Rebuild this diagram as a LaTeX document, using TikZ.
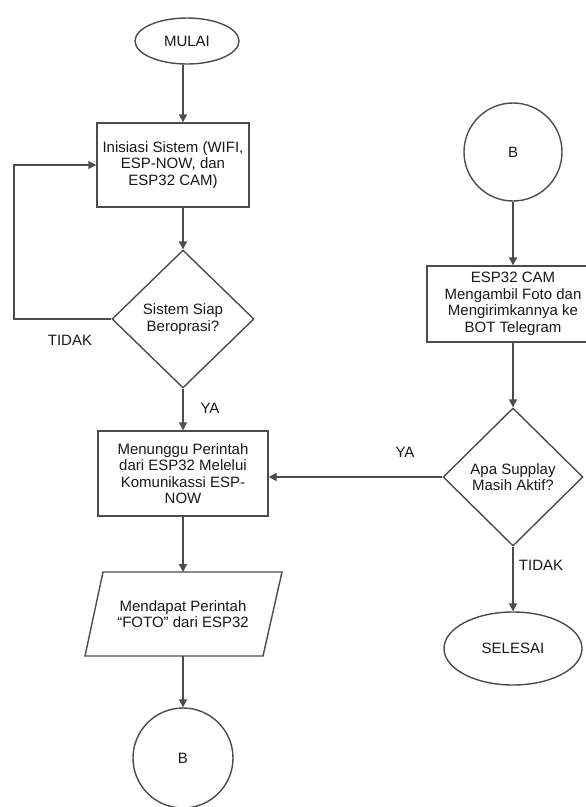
\documentclass[tikz,border=0pt]{standalone}
\usepackage{fontspec}
\setmainfont{Liberation Sans}
\usetikzlibrary{shapes.geometric,arrows.meta,calc}
\begin{document}
\begin{tikzpicture}[x=1pt,y=-1pt,
  every node/.style={font=\fontsize{15}{16.5}\selectfont, text=black!90, align=center, inner sep=1pt},
  ln/.style={draw=black!70, line width=1.4pt},
  arr/.style={ln, -{Triangle[length=8pt,width=8pt]}},
  procbox/.style={ln, rectangle},
  termin/.style={ln, ellipse},
  decis/.style={ln, diamond, minimum width=142pt, minimum height=138pt},
  conn/.style={ln, circle, minimum size=100pt},
  lbl/.style={font=\fontsize{15}{16.5}\selectfont}
]
\useasboundingbox[fill=white] (0,0) rectangle (586,807);

% left column
\node[termin, minimum width=104pt, minimum height=46pt] (mulai) at (187,41) {MULAI};
\node[procbox, minimum width=152pt, minimum height=84pt] (init) at (173,165) {Inisiasi Sistem (WIFI,\\ESP-NOW, dan\\ESP32 CAM)};
\node[decis] (siap) at (183,319) {Sistem Siap\\Beroprasi?};
\node[procbox, minimum width=170pt, minimum height=85pt] (tunggu) at (183,473.5) {Menunggu Perintah\\dari ESP32 Melelui\\Komunikassi ESP-\\NOW};
\node[minimum width=170pt, minimum height=84pt] (dapat) at (183,614) {Mendapat Perintah\\“FOTO” dari ESP32};
\draw[ln] ($(dapat.center)+(-80,-42)$) -- ($(dapat.center)+(99,-42)$) -- ($(dapat.center)+(80,42)$) -- ($(dapat.center)+(-98,42)$) -- cycle;
\coordinate (dapattop) at ($(dapat.center)+(0,-42)$);
\coordinate (dapatbot) at ($(dapat.center)+(0,42)$);
\node[conn] (bleft) at (183,758) {B};

% right column
\node[conn, minimum size=98pt] (bright) at (513,152) {B};
\node[procbox, minimum width=172pt, minimum height=76pt] (foto) at (513,304) {ESP32 CAM\\Mengambil Foto dan\\Mengirimkannya ke\\BOT Telegram};
\node[decis, minimum width=140pt] (supply) at (513,477) {Apa Supplay\\Masih Aktif?};
\node[termin, minimum width=138pt, minimum height=73pt] (selesai) at (513,648.5) {SELESAI};

% connectors
\draw[arr] (mulai.south -| siap.north) -- (init.north -| siap.north);
\draw[arr] (init.south -| siap.north) -- (siap.north);
\draw[arr] (siap.south) -- (tunggu.north);
\draw[arr] (tunggu.south) -- (dapattop);
\draw[arr] (dapatbot) -- (bleft.north);
\draw[arr] (siap.west) -- (14,319) -- (14,165) -- (init.west);
\draw[arr] (bright.south) -- (foto.north);
\draw[arr] (foto.south) -- (supply.north);
\draw[arr] (supply.south) -- (selesai.north);
\draw[arr] (supply.west) -- (supply.west -| tunggu.east);

% labels
\node[lbl] at (70,340) {TIDAK};
\node[lbl] at (210,408) {YA};
\node[lbl] at (405,452) {YA};
\node[lbl] at (541,565) {TIDAK};
\end{tikzpicture}
\end{document}
